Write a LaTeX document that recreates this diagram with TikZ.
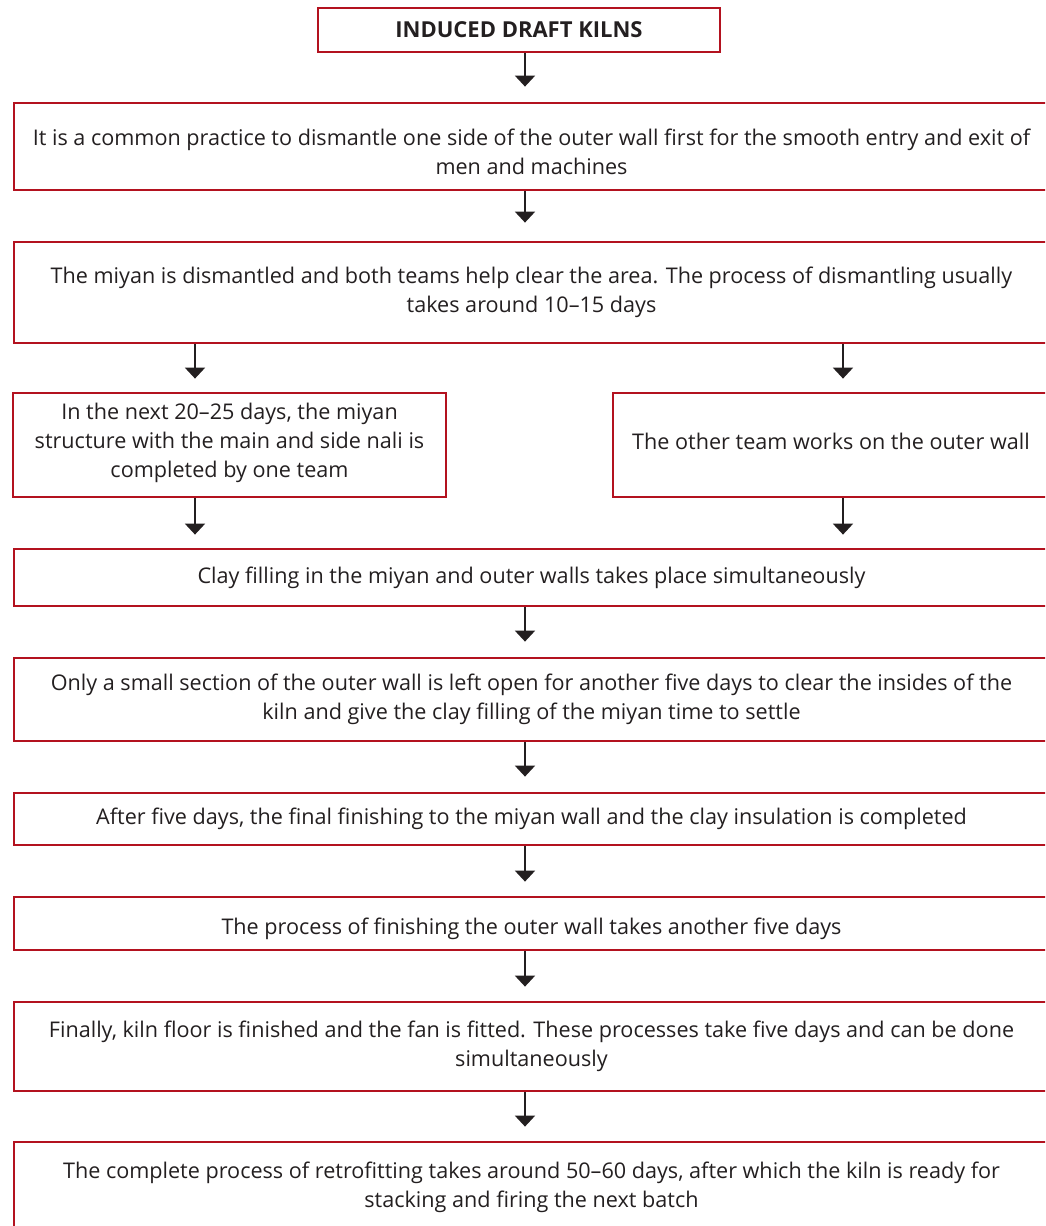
\documentclass[tikz,border=0pt]{standalone}
\usepackage{fontspec}
\setmainfont{Open Sans}
\usetikzlibrary{calc,arrows.meta}
\definecolor{boxred}{HTML}{B3121F}
\definecolor{inkc}{HTML}{231F20}
\newcommand{\lift}[2]{% text nudged inside its box
\raisebox{#1}[\height][\depth]{\begin{tabular}{@{}c@{}}#2\end{tabular}}}
\tikzstyle{stepbox} =[
    draw=boxred,
    line width=1.4pt,
    rectangle,
    align=center,
    inner sep=0pt,
    text=inkc,
    font=\fontsize{10.8}{14.5}\selectfont
    ]
\tikzstyle{titlebox} =[
    stepbox,
    font=\bfseries\fontsize{11}{14.5}\selectfont
    ]
\tikzstyle{flow} =[
    draw=inkc,
    line width=1pt,
    -{Triangle[width=10pt,length=5.5pt]}
    ]
\begin{document}
\begin{tikzpicture}[x=0.5pt,y=-0.5pt]
\clip (0,0) rectangle (1045,1226);
% arrow columns
\coordinate (mid) at (525,0);
\coordinate (lcol) at (195,0);
\coordinate (rcol) at (843,0);

\node[titlebox, minimum width=201pt, minimum height=22pt] (title) at (519,30) {INDUCED DRAFT KILNS};
\node[stepbox, minimum width=517.5pt, minimum height=43.5pt] (practice) at (531.5,146.5)
    {\lift{-4pt}{It is a common practice to dismantle one side of the outer wall first for the smooth entry and exit of\\ men and machines}};
\node[stepbox, minimum width=517.5pt, minimum height=50.5pt] (dismantle) at (531.5,292.5)
    {The miyan is dismantled and both teams help clear the area. The process of dismantling usually\\ takes around 10--15 days};
\node[stepbox, minimum width=216.5pt, minimum height=52pt] (miyan) at (229.5,445)
    {\lift{1pt}{In the next 20--25 days, the miyan\\ structure with the main and side nali is\\ completed by one team}};
\node[stepbox, minimum width=218pt, minimum height=52pt] (outer) at (831,445)
    {\lift{0.5pt}{The other team works on the outer wall}};
\node[stepbox, minimum width=517.5pt, minimum height=28.5pt] (clay) at (531.5,577.5)
    {Clay filling in the miyan and outer walls takes place simultaneously};
\node[stepbox, minimum width=517.5pt, minimum height=41.5pt] (open) at (531.5,699.5)
    {Only a small section of the outer wall is left open for another five days to clear the insides of the\\ kiln and give the clay filling of the miyan time to settle};
\node[stepbox, minimum width=517.5pt, minimum height=26pt] (finish) at (531.5,819)
    {After five days, the final finishing to the miyan wall and the clay insulation is completed};
\node[stepbox, minimum width=517.5pt, minimum height=26.5pt] (wallfinish) at (531.5,923.5)
    {\lift{-2.5pt}{The process of finishing the outer wall takes another five days}};
\node[stepbox, minimum width=517.5pt, minimum height=44.5pt] (fan) at (531.5,1046.5)
    {Finally, kiln floor is finished and the fan is fitted. These processes take five days and can be done\\ simultaneously};
\node[stepbox, minimum width=517.5pt, minimum height=45.5pt] (complete) at (531.5,1187.5)
    {The complete process of retrofitting takes around 50--60 days, after which the kiln is ready for\\ stacking and firing the next batch};

\draw[flow] (title.south -| mid) -- ($(practice.north -| mid)+(0,-15)$);
\draw[flow] (practice.south -| mid) -- ($(dismantle.north -| mid)+(0,-18)$);
\draw[flow] (dismantle.south -| lcol) -- ($(miyan.north -| lcol)+(0,-13)$);
\draw[flow] (dismantle.south -| rcol) -- ($(outer.north -| rcol)+(0,-13)$);
\draw[flow] (miyan.south -| lcol) -- ($(clay.north -| lcol)+(0,-13)$);
\draw[flow] (outer.south -| rcol) -- ($(clay.north -| rcol)+(0,-13)$);
\draw[flow] (clay.south -| mid) -- ($(open.north -| mid)+(0,-15)$);
\draw[flow] (open.south -| mid) -- ($(finish.north -| mid)+(0,-15)$);
\draw[flow] (finish.south -| mid) -- ($(wallfinish.north -| mid)+(0,-14)$);
\draw[flow] (wallfinish.south -| mid) -- ($(fan.north -| mid)+(0,-14)$);
\draw[flow] (fan.south -| mid) -- ($(complete.north -| mid)+(0,-14)$);
\end{tikzpicture}
\end{document}
